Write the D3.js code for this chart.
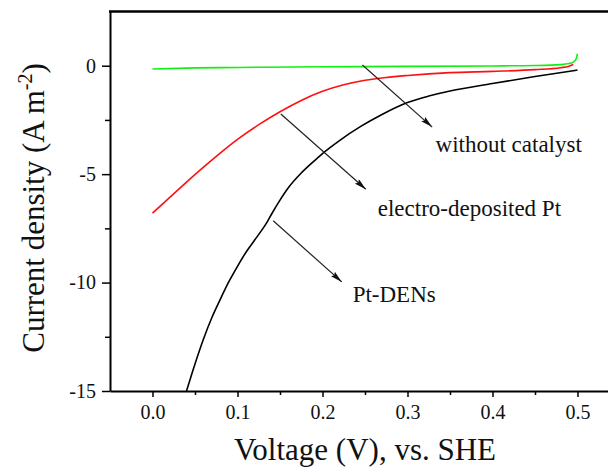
<!DOCTYPE html>
<html>
  <head>
    <meta charset="utf-8">
    <title>Current density vs voltage</title>
    <script src="https://d3js.org/d3.v7.min.js"></script>
    <style>
      body { margin: 0; background: #fff; }
      svg, svg text { font-family: "Liberation Serif", "Times New Roman", serif; }
      svg { display: block; }
      .tick text { font-size: 20px; fill: #111; }
      .axis path, .axis line { stroke: #000; }
    </style>
  </head>
  <body>
    <div id="chart"></div>
    <script>
      // data
      const plainVoltage = [0, 0.05, 0.1, 0.2, 0.3, 0.4, 0.45, 0.48, 0.49, 0.495, 0.498, 0.5];
      const plainCurrent = [-0.15, -0.1, -0.08, -0.05, -0.03, -0.01, 0.01, 0.05, 0.1, 0.17, 0.28, 0.55];
      const ptVoltage = [0, 0.02, 0.04, 0.06, 0.08, 0.1, 0.125, 0.15, 0.175, 0.2, 0.225, 0.25, 0.275, 0.3, 0.35, 0.4, 0.45, 0.48, 0.49, 0.495];
      const ptCurrent = [-6.8, -6.08, -5.37, -4.68, -4.02, -3.4, -2.72, -2.12, -1.6, -1.18, -0.88, -0.67, -0.54, -0.45, -0.32, -0.26, -0.18, -0.09, -0.02, 0.06];
      const denVoltage = [0.04, 0.05, 0.06, 0.07, 0.08, 0.09, 0.1, 0.11, 0.12, 0.13, 0.135, 0.14, 0.15, 0.16, 0.175, 0.19, 0.2, 0.22, 0.245, 0.27, 0.3, 0.325, 0.35, 0.4, 0.45, 0.5];
      const denCurrent = [-15, -13.75, -12.6, -11.6, -10.75, -9.95, -9.25, -8.6, -8.05, -7.5, -7.2, -6.85, -6.2, -5.62, -4.95, -4.4, -4.05, -3.45, -2.8, -2.25, -1.7, -1.4, -1.17, -0.82, -0.5, -0.2];
      // ticks
      const xMajor = [0, 0.1, 0.2, 0.3, 0.4, 0.5];
      const xMinor = [0.05, 0.15, 0.25, 0.35, 0.45];
      const yMajor = [0, -5, -10, -15];
      const yMinor = [-2.5, -7.5, -12.5];
      // labels with arrows, in data units: [label, arrow from, arrow to, text anchor]
      const notes = [
        ["without catalyst", [0.247, 0.03], [0.329, -2.83], [0.333, -3.97]],
        ["electro-deposited Pt", [0.151, -2.23], [0.251, -5.7], [0.265, -6.94]],
        ["Pt-DENs", [0.142, -7.15], [0.2227, -9.97], [0.2355, -10.89]]
      ];

      const width = 608, height = 468;
      const margin = { top: 11.5, left: 110, bottom: 391 };
      const serif = "'Liberation Serif', 'Times New Roman', serif";

      svg = d3.select("#chart")
        .append("svg")
          .attr("width", width)
          .attr("height", height);

      x = d3.scaleLinear()
        .domain([-0.05, 0.55])
        .range([margin.left, 620]);
      y = d3.scaleLinear()
        .domain([-15, 2.5])
        .range([margin.bottom, margin.top]);

      // arrowhead
      svg.append("defs")
        .append("marker")
          .attr("id", "head")
          .attr("viewBox", "0 0 12 6")
          .attr("refX", 12)
          .attr("refY", 3)
          .attr("markerWidth", 12)
          .attr("markerHeight", 6)
          .attr("markerUnits", "userSpaceOnUse")
          .attr("orient", "auto")
        .append("path")
          .attr("d", "M0,0 L12,3 L0,6 L2,3 Z")
          .attr("fill", "#111");

      // minor ticks
      svg.append("g")
        .attr("class", "axis")
        .attr("transform", "translate(0," + margin.bottom + ")")
        .call(d3.axisBottom(x).tickValues(xMinor).tickSize(4).tickFormat(""))
        .call(g => g.select(".domain").remove())
        .selectAll("line").attr("stroke-width", 1.5);
      svg.append("g")
        .attr("class", "axis")
        .attr("transform", "translate(" + margin.left + ",0)")
        .call(d3.axisLeft(y).tickValues(yMinor).tickSize(5).tickFormat(""))
        .call(g => g.select(".domain").remove())
        .selectAll("line").attr("stroke-width", 1.5);

      // major axes
      svg.append("g")
        .attr("class", "axis")
        .attr("transform", "translate(0," + margin.bottom + ")")
        .call(d3.axisBottom(x).tickValues(xMajor).tickSize(6).tickSizeOuter(0).tickPadding(8).tickFormat(d3.format(".1f")))
        .attr("font-family", serif)
        .call(g => g.select(".domain").attr("stroke-width", 2))
        .selectAll("line").attr("stroke-width", 1.5);
      svg.append("g")
        .attr("class", "axis")
        .attr("transform", "translate(" + margin.left + ",0)")
        .call(d3.axisLeft(y).tickValues(yMajor).tickSize(8).tickSizeOuter(0).tickPadding(6).tickFormat(d => String(d)))
        .attr("font-family", serif)
        .call(g => g.select(".domain").attr("stroke-width", 2))
        .selectAll("line").attr("stroke-width", 1.5);

      // top frame line
      svg.append("line")
        .attr("x1", margin.left - 1)
        .attr("x2", width)
        .attr("y1", margin.top)
        .attr("y2", margin.top)
        .attr("stroke", "#000")
        .attr("stroke-width", 2.5);

      // curves
      line = d3.line()
        .x(d => x(d[0]))
        .y(d => y(d[1]))
        .curve(d3.curveMonotoneX);
      series = [
        { v: denVoltage, j: denCurrent, colour: "#000" },
        { v: ptVoltage, j: ptCurrent, colour: "#ff1010" },
        { v: plainVoltage, j: plainCurrent, colour: "#10f010" }
      ];
      svg.append("g")
        .selectAll("path")
          .data(series)
        .enter().append("path")
          .attr("d", d => line(d.v.map((v, i) => [v, d.j[i]])))
          .attr("fill", "none")
          .attr("stroke", d => d.colour)
          .attr("stroke-width", 1.6);

      // annotations
      ann = svg.append("g")
        .selectAll("g")
          .data(notes)
        .enter().append("g");
      ann.append("line")
        .attr("x1", d => x(d[1][0]))
        .attr("y1", d => y(d[1][1]))
        .attr("x2", d => x(d[2][0]))
        .attr("y2", d => y(d[2][1]))
        .attr("stroke", "#222")
        .attr("stroke-width", 1.2)
        .attr("marker-end", "url(#head)");
      ann.append("text")
        .attr("x", d => x(d[3][0]))
        .attr("y", d => y(d[3][1]))
        .attr("font-family", serif)
        .attr("font-size", 23)
        .attr("fill", "#111")
        .text(d => d[0]);

      // axis titles
      svg.append("text")
        .attr("x", 365)
        .attr("y", 460)
        .attr("text-anchor", "middle")
        .attr("font-family", serif)
        .attr("font-size", 31)
        .attr("fill", "#111")
        .text("Voltage (V), vs. SHE");
      yTitle = svg.append("text")
        .attr("transform", "translate(44,208) rotate(-90)")
        .attr("text-anchor", "middle")
        .attr("font-family", serif)
        .attr("font-size", 31)
        .attr("fill", "#111");
      yTitle.append("tspan").text("Current density (A m");
      yTitle.append("tspan")
        .attr("font-size", 20)
        .attr("dy", -12)
        .text("-2");
      yTitle.append("tspan")
        .attr("dy", 12)
        .text(")");
    </script>
  </body>
</html>
